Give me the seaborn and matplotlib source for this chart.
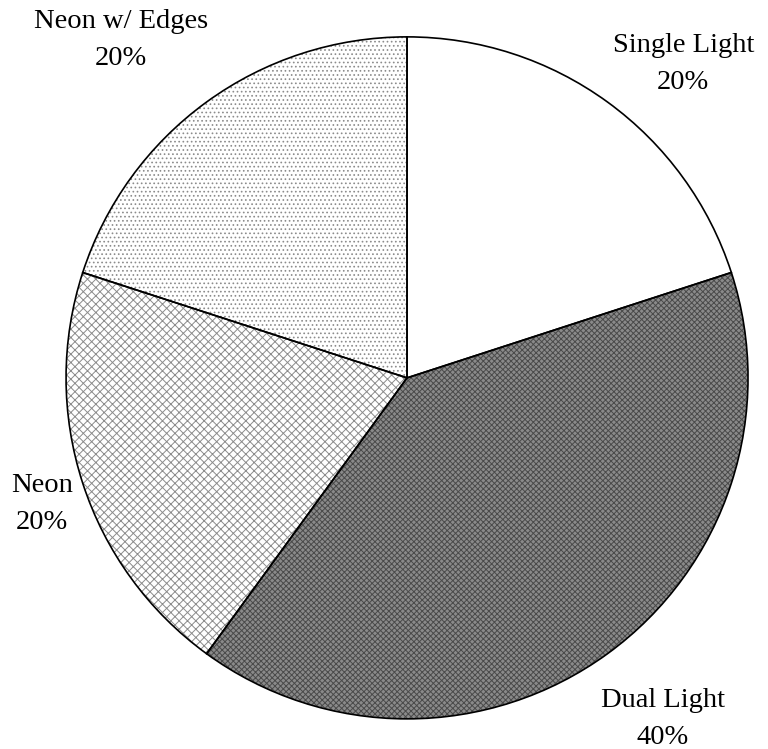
import matplotlib
matplotlib.use('Agg')
import matplotlib.pyplot as plt
import seaborn as sns

categories = ['Single Light', 'Dual Light', 'Neon', 'Neon w/ Edges']
shares = [20, 40, 20, 20]

# styling (kept apart from the data)
fills = ['white', '#8a8a8a', 'white', 'white']
hatch_colors = ['white', '#4a4a4a', '#8c8c8c', '#8c8c8c']
hatches = ['', 'xxxxxx', 'xxxx', '....']
label_pos = [(0.81, 0.92), (0.75, -1.00), (-1.07, -0.37), (-0.84, 0.99)]

sns.set_style('white')
plt.rcParams['font.family'] = ['Liberation Serif', 'DejaVu Serif']
plt.rcParams['hatch.linewidth'] = 0.7

fig = plt.figure(figsize=(7.68, 7.49), dpi=100)
ax = fig.add_axes([0.086, 0.040, 0.888, 0.911])

# hatched fills
wedges, _ = ax.pie(shares, startangle=90, counterclock=False, colors=fills,
                   hatch=hatches, wedgeprops={'linewidth': 0})
for w, hc in zip(wedges, hatch_colors):
    w.set_edgecolor(hc)
    w.set_linewidth(0)

# outlines + labels
labels = [f'{c}\n{s}%' for c, s in zip(categories, shares)]
outl, texts = ax.pie(shares, startangle=90, counterclock=False, labels=labels,
                     wedgeprops={'fill': False, 'edgecolor': 'black', 'linewidth': 1.2},
                     textprops={'fontsize': 20.5, 'color': 'black', 'linespacing': 1.65})
for t, p in zip(texts, label_pos):
    t.set_position(p)
    t.set_ha('center')
    t.set_va('center')
    t.set_multialignment('center')

ax.set_xlim(-1, 1)
ax.set_ylim(-1, 1)
ax.set_aspect('equal')
ax.axis('off')

fig.savefig('out.png', dpi=100)
plt.close(fig)
